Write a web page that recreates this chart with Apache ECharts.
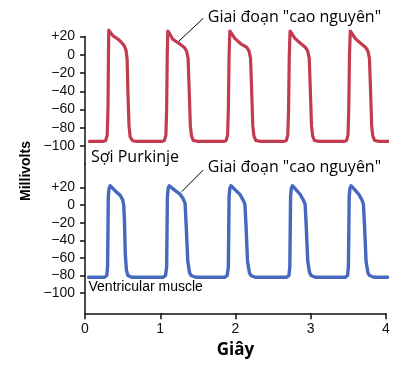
<!DOCTYPE html>
<html>
<head>
<meta charset="utf-8">
<script src="https://cdn.jsdelivr.net/npm/echarts@6/dist/echarts.min.js"></script>
<style>html,body{margin:0;padding:0;background:#fff}#c{width:408px;height:368px}</style>
</head>
<body>
<div id="c"></div>
<script>
// ---- data (time in seconds, membrane potential in mV) ----
const purkinje = [
  [0.06,-95],[0.24,-95],[0.275,-94],[0.295,-88],[0.305,-60],[0.312,0],[0.316,27],[0.34,24],[0.37,21],[0.44,17],[0.48,14],[0.52,10],[0.545,5],[0.56,-5],[0.57,-40],[0.585,-78],[0.60,-90],[0.63,-94],[0.68,-95],
  [1.02,-95],[1.055,-94],[1.075,-88],[1.085,-60],[1.093,0],[1.10,26],[1.125,23],[1.167,17],[1.256,12],[1.32,8],[1.35,4],[1.37,-4],[1.385,-40],[1.40,-78],[1.415,-89],[1.44,-94],[1.50,-95],
  [1.84,-95],[1.875,-94],[1.895,-88],[1.905,-60],[1.915,0],[1.925,26],[1.95,23],[1.99,18],[2.07,12],[2.15,8],[2.18,4],[2.20,-4],[2.215,-40],[2.23,-78],[2.245,-89],[2.27,-94],[2.33,-95],
  [2.64,-95],[2.675,-94],[2.695,-88],[2.705,-60],[2.715,0],[2.725,26],[2.75,23],[2.79,18],[2.87,12],[2.93,8],[2.96,4],[2.98,-4],[2.995,-40],[3.01,-78],[3.025,-89],[3.05,-94],[3.11,-95],
  [3.44,-95],[3.475,-94],[3.495,-88],[3.505,-60],[3.515,0],[3.525,26],[3.55,23],[3.59,18],[3.67,12],[3.73,8],[3.76,4],[3.78,-4],[3.795,-40],[3.81,-78],[3.825,-89],[3.85,-94],[3.91,-95],[4.045,-95]
];
const ventricular = [
  [0.047,-82],[0.26,-82],[0.29,-80],[0.30,-70],[0.305,-30],[0.31,10],[0.32,19],[0.335,22],[0.35,20],[0.415,15],[0.468,11],[0.50,6],[0.515,0],[0.525,-20],[0.535,-55],[0.55,-74],[0.57,-80],[0.62,-82],
  [1.04,-82],[1.07,-80],[1.085,-70],[1.09,-30],[1.095,10],[1.105,19],[1.12,22],[1.135,21],[1.19,17],[1.256,13],[1.30,8],[1.33,2],[1.345,-24],[1.366,-64],[1.39,-77],[1.41,-80],[1.47,-82],
  [1.86,-82],[1.89,-80],[1.905,-70],[1.91,-30],[1.915,10],[1.925,19],[1.94,22],[1.955,21],[2.0,17],[2.06,12],[2.10,6],[2.125,1],[2.14,-24],[2.16,-64],[2.185,-77],[2.205,-80],[2.26,-82],
  [2.68,-82],[2.71,-80],[2.722,-70],[2.727,-30],[2.732,10],[2.742,19],[2.757,22],[2.772,21],[2.81,17],[2.86,12],[2.90,6],[2.925,1],[2.94,-24],[2.96,-64],[2.985,-77],[3.005,-80],[3.06,-82],
  [3.46,-82],[3.49,-80],[3.50,-70],[3.506,-30],[3.511,10],[3.521,19],[3.536,22],[3.551,21],[3.59,17],[3.64,12],[3.68,6],[3.70,1],[3.715,-24],[3.735,-64],[3.76,-77],[3.78,-80],[3.84,-82],[4.024,-82]
];
const yTicks = [20, 0, -20, -40, -60, -80, -100];
const xTicks = [0, 1, 2, 3, 4];
const plateauLabel = 'Giai đoạn "cao nguyên"';
const topTraceLabel = 'Sợi Purkinje';
const bottomTraceLabel = 'Ventricular muscle';
const yTitle = 'Millivolts';
const xTitle = 'Giây';
// leader lines: [start(text end), end(on trace)] in data coords
const topLeader = [[1.572, 40], [1.24, 14.3]];
const bottomLeader = [[1.572, 39.9], [1.285, 15.2]];

const fmt = v => v > 0 ? '+' + v : (v < 0 ? '\u2212' + Math.abs(v) : '0');
const axisCol = '#111';
const tickFont = {fontFamily: 'Liberation Sans', fontSize: 14, color: '#111'};

function yAxisCfg(gridIndex, min, max) {
  return {
    type: 'value', gridIndex, min, max,
    axisLine: {show: true, onZero: false, lineStyle: {color: axisCol, width: 1.5}},
    axisTick: {show: true, customValues: yTicks, length: 5, lineStyle: {color: axisCol, width: 1.5}},
    axisLabel: Object.assign({customValues: yTicks, formatter: fmt, margin: 10, padding: [4, 0, 0, 0]}, tickFont),
    splitLine: {show: false}
  };
}

const chart = echarts.init(document.getElementById('c'), null, {renderer: 'canvas'});
chart.setOption({
  animation: false,
  grid: [
    {left: 85, right: 22, top: 36.5, height: 127.75},
    {left: 85, right: 22, top: 164.25, height: 149.05}
  ],
  xAxis: [
    {type: 'value', gridIndex: 0, min: 0, max: 4, show: false},
    {type: 'value', gridIndex: 1, min: 0, max: 4, interval: 1,
     axisLine: {show: true, onZero: false, lineStyle: {color: axisCol, width: 1.5}},
     axisTick: {show: true, length: 6, lineStyle: {color: axisCol, width: 1.5}},
     axisLabel: Object.assign({margin: 9}, tickFont),
     splitLine: {show: false},
     name: xTitle, nameLocation: 'middle', nameGap: 37,
     nameTextStyle: {fontFamily: 'Open Sans', fontWeight: 'bold', fontSize: 17, color: '#000', verticalAlign: 'middle'}
    }
  ],
  yAxis: [
    yAxisCfg(0, -120, 20),
    yAxisCfg(1, -123, 46.4)
  ],
  series: [
    {type: 'line', xAxisIndex: 0, yAxisIndex: 0, data: purkinje, showSymbol: false, clip: false,
     lineStyle: {color: '#c23b4e', width: 3.2, join: 'round', cap: 'round'}},
    {type: 'line', xAxisIndex: 1, yAxisIndex: 1, data: ventricular, showSymbol: false, clip: false,
     lineStyle: {color: '#4669be', width: 3.4, join: 'round', cap: 'round'}}
  ]
});

// annotations anchored to data coordinates
const px = (g, p) => chart.convertToPixel({gridIndex: g}, p);
const t0 = px(0, topLeader[0]), t1 = px(0, topLeader[1]);
const b0 = px(1, bottomLeader[0]), b1 = px(1, bottomLeader[1]);
const pLeft = px(0, [0, -100]);
const pLeftB = px(1, [0, -100]);
const txt = (x, y, text, font, size, extra) => Object.assign({type: 'text', x, y,
  style: {text, fontFamily: font, fontSize: size, fill: '#000', verticalAlign: 'middle', align: 'left'}}, extra || {});
chart.setOption({
  graphic: [
    {type: 'line', shape: {x1: t0[0], y1: t0[1], x2: t1[0], y2: t1[1]}, style: {stroke: '#000', lineWidth: 1}},
    {type: 'line', shape: {x1: b0[0], y1: b0[1], x2: b1[0], y2: b1[1]}, style: {stroke: '#000', lineWidth: 1}},
    txt(t0[0] + 4.5, t0[1] - 1, plateauLabel, 'Open Sans', 16),
    txt(b0[0] + 4.5, b0[1] - 2.5, plateauLabel, 'Open Sans', 16),
    txt(pLeft[0] + 6, pLeft[1] + 11, topTraceLabel, 'Open Sans', 16),
    txt(pLeftB[0] + 3.5, pLeftB[1] - 6, bottomTraceLabel, 'Liberation Sans', 14),
    {type: 'text', x: 26, y: 171, rotation: Math.PI / 2, style: {text: yTitle, fontFamily: 'Liberation Sans', fontWeight: 'bold', fontSize: 14, fill: '#000', verticalAlign: 'middle', align: 'center'}}
  ]
});
</script>
</body>
</html>
